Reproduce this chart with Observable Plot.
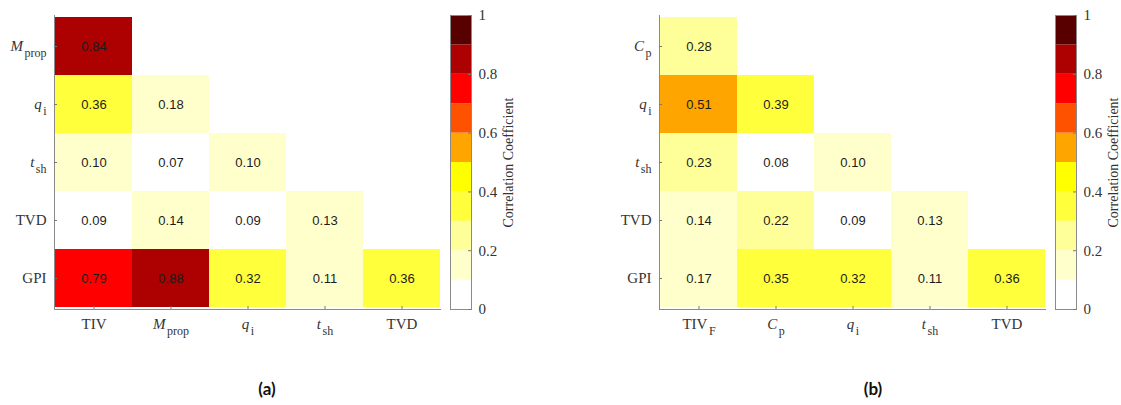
<!DOCTYPE html>
<html><head><meta charset="utf-8">
<script src="https://cdn.jsdelivr.net/npm/d3@7"></script>
<script src="https://cdn.jsdelivr.net/npm/@observablehq/plot@0.6"></script>
<style>
body{margin:0;background:#fff;}
#wrap{position:relative;width:1121px;height:405px;overflow:hidden;background:#fff;}
.pane{position:absolute;top:0;}
.cap{position:absolute;font-family:Lato, "Open Sans", sans-serif;font-weight:700;font-size:17px;color:#111;transform:translateX(-50%);line-height:1;}
#wrap .heat g[aria-label$="tick label"] text,
#wrap .cb g[aria-label$="tick label"] text,
#wrap .cb g[aria-label="text"] text{font-family:"Liberation Serif","Times New Roman",serif !important;}
#wrap .heat g[aria-label="text"] text{font-family:"Liberation Sans",Arial,sans-serif !important;}
</style></head><body>
<div id="wrap"></div>
<script>
// ---- data ----
const colsA = ["TIV", "M_prop", "q_i", "t_sh", "TVD"];
const rowsA = ["M_prop", "q_i", "t_sh", "TVD", "GPI"];
const valuesA = [
  [0.84],
  [0.36, 0.18],
  [0.10, 0.07, 0.10],
  [0.09, 0.14, 0.09, 0.13],
  [0.79, 0.88, 0.32, 0.11, 0.36]
];
const colsB = ["TIV_F", "C_p", "q_i", "t_sh", "TVD"];
const rowsB = ["C_p", "q_i", "t_sh", "TVD", "GPI"];
const valuesB = [
  [0.28],
  [0.51, 0.39],
  [0.23, 0.08, 0.10],
  [0.14, 0.22, 0.09, 0.13],
  [0.17, 0.35, 0.32, 0.11, 0.36]
];
const thresholds = [0.1, 0.2, 0.3, 0.4, 0.5, 0.6, 0.7, 0.8, 0.9];
const palette = ["#ffffff", "#ffffcc", "#ffff99", "#ffff3c", "#ffff00", "#ffa500", "#ff5200", "#ff0000", "#ad0000", "#580000"];
const colorbarTicks = [0, 0.2, 0.4, 0.6, 0.8, 1];
const colorbarLabel = "Correlation Coefficient";
const captions = ["(a)", "(b)"];
const italicSymbols = ["M", "q", "t", "C"];

// ---- styles / layout ----
const serif = "Liberation Serif, Times New Roman, serif";
const sans = "Liberation Sans, Arial, sans-serif";
const axisColor = "#8a8a8a";
const tickColor = "#777";
const labelColor = "#333";
const W = 450, H = 350, mL = 54, mR = 10, mT = 15, mB = 41;
const pw = W - mL - mR, ph = H - mT - mB;
const cbW = 66, cbBar = 21;
const panels = [
  {cols: colsA, rows: rowsA, values: valuesA, left: 0, cbLeft: 450, capX: 267},
  {cols: colsB, rows: rowsB, values: valuesB, left: 605, cbLeft: 1055, capX: 873}
];
const colorScale = {type: "threshold", domain: thresholds, range: palette};
const ns = "http://www.w3.org/2000/svg";

function richLabels(svg, sel) {
  svg.querySelectorAll(sel + " text").forEach(t => {
    const s = t.textContent;
    const [main, sub] = s.split("_");
    t.textContent = "";
    const m = document.createElementNS(ns, "tspan");
    m.textContent = main;
    if (italicSymbols.includes(main)) m.setAttribute("font-style", "italic");
    t.appendChild(m);
    if (sub) {
      const sb = document.createElementNS(ns, "tspan");
      sb.textContent = sub;
      sb.setAttribute("font-size", "12");
      sb.setAttribute("dy", "6");
      sb.setAttribute("dx", "1.5");
      t.appendChild(sb);
    }
  });
}

const wrap = document.getElementById("wrap");
panels.forEach((p, k) => {
  const cells = p.values.flatMap((row, i) => row.map((v, j) => ({row: p.rows[i], col: p.cols[j], value: v})));
  const heat = Plot.plot({
    width: W, height: H, marginLeft: mL, marginRight: mR, marginTop: mT, marginBottom: mB,
    x: {type: "band", domain: p.cols, padding: 0, label: null},
    y: {type: "band", domain: p.rows, padding: 0, label: null},
    color: colorScale,
    style: {background: "transparent", overflow: "visible"},
    marks: [
      Plot.cell(cells, {x: "col", y: "row", fill: "value"}),
      Plot.text(cells, {x: "col", y: "row", text: d => d3.format(".2f")(d.value), fill: "#1c1c1c", fontSize: 13, fontFamily: sans}),
      Plot.frame({anchor: "left", stroke: axisColor}),
      Plot.frame({anchor: "bottom", stroke: axisColor}),
      Plot.tickY(p.rows, {y: d => d, insetRight: pw - 3, stroke: tickColor}),
      Plot.tickX(p.cols, {x: d => d, insetTop: ph - 3, stroke: tickColor}),
      Plot.axisY({tickSize: 0, tickPadding: 8, fontSize: 15, fontFamily: serif, label: null, color: labelColor}),
      Plot.axisX({tickSize: 0, tickPadding: 9, fontSize: 15, fontFamily: serif, label: null, color: labelColor})
    ]
  });
  richLabels(heat, 'g[aria-label="y-axis tick label"]');
  richLabels(heat, 'g[aria-label="x-axis tick label"]');
  heat.classList.add("pane", "heat");
  heat.style.left = p.left + "px";
  wrap.appendChild(heat);

  const bins = [0, ...thresholds].map((lo, i) => ({lo, hi: i < thresholds.length ? thresholds[i] : 1}));
  const cb = Plot.plot({
    width: cbW, height: H, marginLeft: 0, marginRight: cbW - cbBar, marginTop: mT, marginBottom: mB,
    y: {domain: [0, 1], label: null},
    color: colorScale,
    style: {background: "transparent", overflow: "visible"},
    marks: [
      Plot.rect(bins, {y1: "lo", y2: "hi", fill: "lo"}),
      Plot.frame({stroke: axisColor}),
      Plot.tickY(colorbarTicks, {y: d => d, insetLeft: cbBar - 3, stroke: tickColor}),
      Plot.axisY({anchor: "right", ticks: colorbarTicks, tickFormat: d => String(d), tickSize: 0, tickPadding: 7, fontSize: 15, fontFamily: serif, label: null, color: labelColor}),
      Plot.text([colorbarLabel], {text: d => d, frameAnchor: "right", textAnchor: "middle", rotate: -90, dx: 37, fontSize: 14, fontFamily: serif, fill: labelColor})
    ]
  });
  cb.classList.add("pane", "cb");
  cb.style.left = p.cbLeft + "px";
  wrap.appendChild(cb);

  const cap = document.createElement("div");
  cap.className = "cap";
  cap.textContent = captions[k];
  cap.style.left = p.capX + "px";
  cap.style.top = "380px";
  wrap.appendChild(cap);
});
</script>
</body></html>
